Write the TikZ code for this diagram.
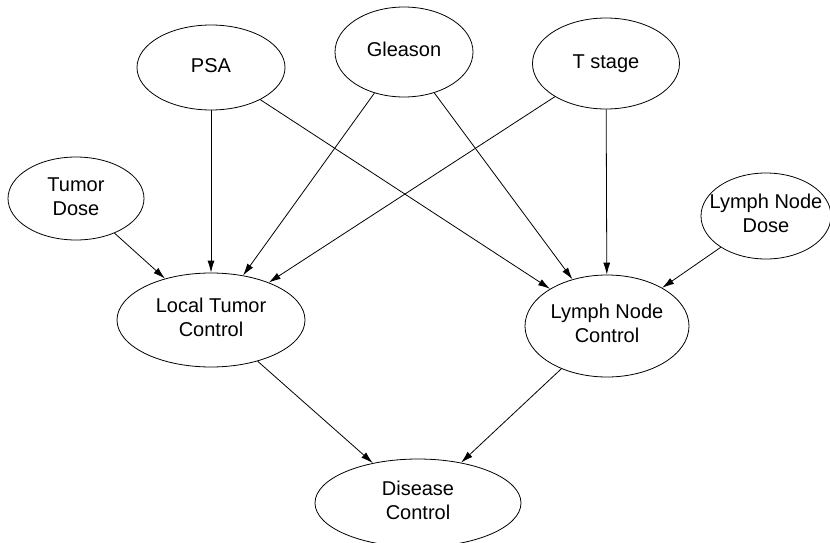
\documentclass[tikz,border=0pt]{standalone}
\usepackage{fontspec}
\setmainfont{Liberation Sans}
\usetikzlibrary{shapes.geometric,arrows.meta}
\newcommand\nodetext[1]{\makebox[0pt]{\begin{tabular}{@{}c@{}}#1\end{tabular}}}
\begin{document}
\begin{tikzpicture}[x=1pt,y=-1pt,
  var/.style={ellipse, draw, line width=0.8pt, inner sep=0pt, font=\fontsize{20}{24}\selectfont},
  arr/.style={-{Latex[length=12pt,width=7pt]}, line width=0.8pt}]
\useasboundingbox (0,0) rectangle (830,543);
\node[var, minimum width=148pt, minimum height=85pt] (psa) at (211,67.5) {\nodetext{PSA}};
\node[var, minimum width=138pt, minimum height=90pt] (gleason) at (404,52) {\nodetext{Gleason}};
\node[var, minimum width=147pt, minimum height=91pt] (tstage) at (606,63.5) {\nodetext{T stage}};
\node[var, minimum width=136pt, minimum height=83pt] (tdose) at (76,198.5) {\nodetext{Tumor\\Dose}};
\node[var, minimum width=130pt, minimum height=86pt] (ldose) at (766,216) {\nodetext{Lymph Node\\Dose}};
\node[var, minimum width=188pt, minimum height=94pt] (ltc) at (211,320) {\nodetext{Local Tumor\\Control}};
\node[var, minimum width=164pt, minimum height=102pt] (lnc) at (607,326) {\nodetext{Lymph Node\\Control}};
\node[var, minimum width=206pt, minimum height=88pt] (dc) at (418,503) {\nodetext{Disease\\Control}};
\draw[arr] (psa) -- (ltc);
\draw[arr] (psa) -- (lnc);
\draw[arr] (gleason) -- (ltc);
\draw[arr] (gleason) -- (lnc);
\draw[arr] (tstage) -- (ltc);
\draw[arr] (tstage) -- (lnc);
\draw[arr] (tdose) -- (ltc);
\draw[arr] (ldose) -- (lnc);
\draw[arr] (ltc) -- (dc);
\draw[arr] (lnc) -- (dc);
\end{tikzpicture}
\end{document}
